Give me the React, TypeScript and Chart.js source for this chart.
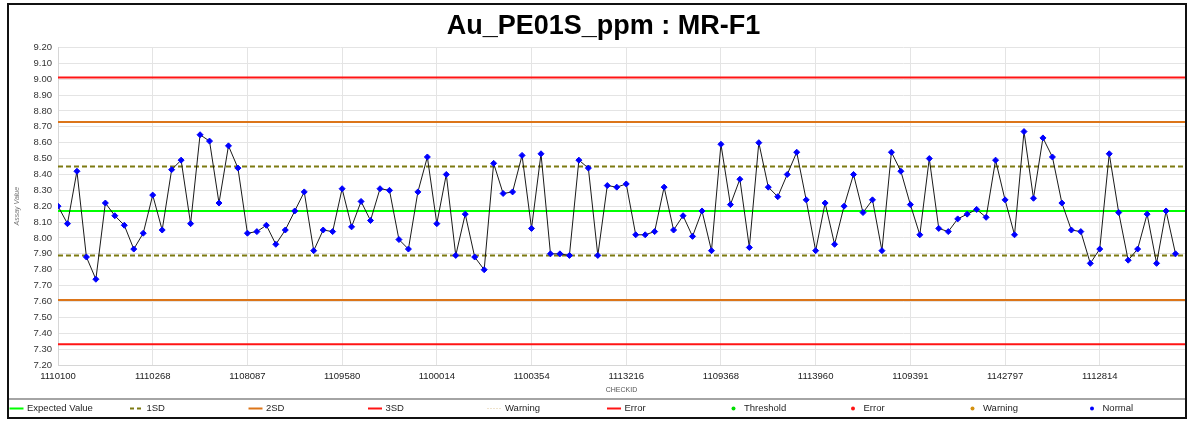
import React, { useEffect, useRef } from 'react';
import { Chart, registerables } from 'chart.js';

Chart.register(...registerables);

const chartTitle = 'Au_PE01S_ppm : MR-F1';
const xAxisTitle = 'CHECKID';
const yAxisTitle = 'Assay Value';

// CHECKID tick labels, one every 10 samples
const checkIdLabels = [
  '1110100', '1110268', '1108087', '1109580', '1100014', '1100354',
  '1113216', '1109368', '1113960', '1109391', '1142797', '1112814',
];
const labelEvery = 10;

// Assay values in sample order
const assayValues = [
  8.20, 8.09, 8.42, 7.88, 7.74, 8.22, 8.14, 8.08, 7.93, 8.03,
  8.27, 8.05, 8.43, 8.49, 8.09, 8.65, 8.61, 8.22, 8.58, 8.44,
  8.03, 8.04, 8.08, 7.96, 8.05, 8.17, 8.29, 7.92, 8.05, 8.04,
  8.31, 8.07, 8.23, 8.11, 8.31, 8.30, 7.99, 7.93, 8.29, 8.51,
  8.09, 8.40, 7.89, 8.15, 7.88, 7.80, 8.47, 8.28, 8.29, 8.52,
  8.06, 8.53, 7.90, 7.90, 7.89, 8.49, 8.44, 7.89, 8.33, 8.32,
  8.34, 8.02, 8.02, 8.04, 8.32, 8.05, 8.14, 8.01, 8.17, 7.92,
  8.59, 8.21, 8.37, 7.94, 8.60, 8.32, 8.26, 8.40, 8.54, 8.24,
  7.92, 8.22, 7.96, 8.20, 8.40, 8.16, 8.24, 7.92, 8.54, 8.42,
  8.21, 8.02, 8.50, 8.06, 8.04, 8.12, 8.15, 8.18, 8.13, 8.49,
  8.24, 8.02, 8.67, 8.25, 8.63, 8.51, 8.22, 8.05, 8.04, 7.84,
  7.93, 8.53, 8.16, 7.86, 7.93, 8.15, 7.84, 8.17, 7.90,
];

const expectedValue = 8.17;
const standardDeviation = 0.28;

const yMin = 7.2;
const yMax = 9.2;
const yStep = 0.1;

// Control limit lines: label, multiple of SD, colour, dashed
const limitLabels = ['Expected Value', '1SD', '1SD', '2SD', '2SD', '3SD', '3SD'];
const limitMultiples = [0, 1, -1, 2, -2, 3, -3];
const limitColors = ['#00ff00', '#7d7a12', '#7d7a12', '#dc7519', '#dc7519', '#ff1414', '#ff1414'];
const limitDashed = [false, true, true, false, false, false, false];

// Legend entries
const legendLabels = ['Expected Value', '1SD', '2SD', '3SD', 'Warning', 'Error', 'Threshold', 'Error', 'Warning', 'Normal'];
const legendKinds = ['line', 'dash', 'line', 'line', 'dotted', 'line', 'dot', 'dot', 'dot', 'dot'];
const legendColors = ['#00ff00', '#7d7a12', '#dc7519', '#ff1414', '#dcc79a', '#ff1414', '#00dd00', '#ff1414', '#d4900f', '#0000ff'];

const FONT = '"Liberation Sans", Arial, sans-serif';

const legendPlugin = {
  id: 'qcLegend',
  afterDraw(chart: any) {
    const ctx = chart.ctx as CanvasRenderingContext2D;
    const w = chart.width;
    ctx.save();
    ctx.strokeStyle = '#a4a4a4';
    ctx.lineWidth = 2;
    ctx.beginPath();
    ctx.moveTo(0, 394);
    ctx.lineTo(w, 394);
    ctx.stroke();
    const colW = 119.5;
    const cy = 403.5;
    ctx.font = `9.5px ${FONT}`;
    ctx.textBaseline = 'middle';
    ctx.textAlign = 'left';
    legendLabels.forEach((label, i) => {
      const sx = 7.5 + i * colW;
      const color = legendColors[i];
      const kind = legendKinds[i];
      ctx.strokeStyle = color;
      ctx.fillStyle = color;
      if (kind === 'line') {
        ctx.lineWidth = 2;
        ctx.setLineDash([]);
        ctx.beginPath();
        ctx.moveTo(sx - 7, cy);
        ctx.lineTo(sx + 7, cy);
        ctx.stroke();
      } else if (kind === 'dash') {
        ctx.lineWidth = 2;
        ctx.setLineDash([4, 3]);
        ctx.beginPath();
        ctx.moveTo(sx - 6, cy);
        ctx.lineTo(sx + 6, cy);
        ctx.stroke();
        ctx.setLineDash([]);
      } else if (kind === 'dotted') {
        ctx.lineWidth = 1;
        ctx.setLineDash([1, 2]);
        ctx.beginPath();
        ctx.moveTo(sx - 7, cy);
        ctx.lineTo(sx + 7, cy);
        ctx.stroke();
        ctx.setLineDash([]);
      } else {
        ctx.beginPath();
        ctx.arc(sx, cy, 2, 0, Math.PI * 2);
        ctx.fill();
      }
      ctx.fillStyle = '#1e1e1e';
      ctx.fillText(label, sx + 10.5, cy);
    });
    ctx.restore();
  },
};

export default function App() {
  const canvasRef = useRef<HTMLCanvasElement | null>(null);

  useEffect(() => {
    if (!canvasRef.current) return;
    const xEnd = assayValues.length;
    const limitDatasets = limitLabels.map((label, i) => {
      const y = +(expectedValue + limitMultiples[i] * standardDeviation).toFixed(2);
      return {
        label,
        data: [{ x: 0, y }, { x: xEnd, y }],
        borderColor: limitColors[i],
        backgroundColor: limitColors[i],
        borderWidth: 2,
        borderDash: limitDashed[i] ? [5, 3] : [],
        pointRadius: 0,
        fill: false,
        order: 2,
      };
    });
    const chart = new Chart(canvasRef.current, {
      type: 'line',
      data: {
        datasets: [
          {
            label: 'Normal',
            data: assayValues.map((v, i) => ({ x: i, y: v })),
            borderColor: '#1a1a1a',
            borderWidth: 1,
            pointStyle: 'rectRot',
            pointRadius: 3,
            pointBackgroundColor: '#0000ff',
            pointBorderColor: '#0000ff',
            pointBorderWidth: 1,
            fill: false,
            tension: 0,
            order: 0,
          },
          ...limitDatasets,
        ] as any,
      },
      options: {
        responsive: false,
        animation: false,
        devicePixelRatio: 1,
        layout: { autoPadding: false, padding: { left: 13, right: 0, top: 0, bottom: 22 } },
        plugins: {
          legend: { display: false },
          tooltip: { enabled: false },
          title: {
            display: true,
            text: chartTitle,
            color: '#000000',
            font: { family: FONT, size: 27, weight: 'bold' },
            padding: { top: 5, bottom: 5 },
          },
        },
        scales: {
          x: {
            type: 'linear',
            min: 0,
            max: xEnd,
            afterFit: (axis: any) => { axis.height = 30; },
            grid: { color: '#e4e4e4', lineWidth: 1, drawTicks: false },
            border: { color: '#d6d6d6' },
            ticks: {
              stepSize: labelEvery,
              includeBounds: false,
              autoSkip: false,
              maxRotation: 0,
              padding: 6,
              color: '#222222',
              font: { family: FONT, size: 9.5 },
              callback: (v: any) => {
                const n = Number(v);
                if (n % labelEvery !== 0) return '';
                return checkIdLabels[n / labelEvery] ?? '';
              },
            },
            title: {
              display: true,
              text: xAxisTitle,
              color: '#555555',
              font: { family: FONT, size: 7 },
              padding: { top: 0, bottom: 1 },
            },
          },
          y: {
            min: yMin,
            max: yMax,
            afterFit: (axis: any) => { axis.width = 36; },
            grid: { color: '#e4e4e4', lineWidth: 1, drawTicks: false },
            border: { color: '#d6d6d6' },
            ticks: {
              stepSize: yStep,
              autoSkip: false,
              padding: 6,
              color: '#333333',
              font: { family: FONT, size: 9.5 },
              callback: (v: any) => Number(v).toFixed(2),
            },
            title: {
              display: true,
              text: yAxisTitle,
              color: '#777777',
              font: { family: FONT, size: 7, style: 'italic' },
              padding: { top: -9, bottom: 0 },
            },
          },
        },
      },
      plugins: [legendPlugin],
    });
    return () => chart.destroy();
  }, []);

  return (
    <div
      style={{
        position: 'absolute',
        left: 7,
        top: 3,
        width: 1180,
        height: 416,
        border: '2px solid #111',
        boxSizing: 'border-box',
        background: '#ffffff',
      }}
    >
      <canvas ref={canvasRef} width={1176} height={412} style={{ display: 'block' }} />
    </div>
  );
}
